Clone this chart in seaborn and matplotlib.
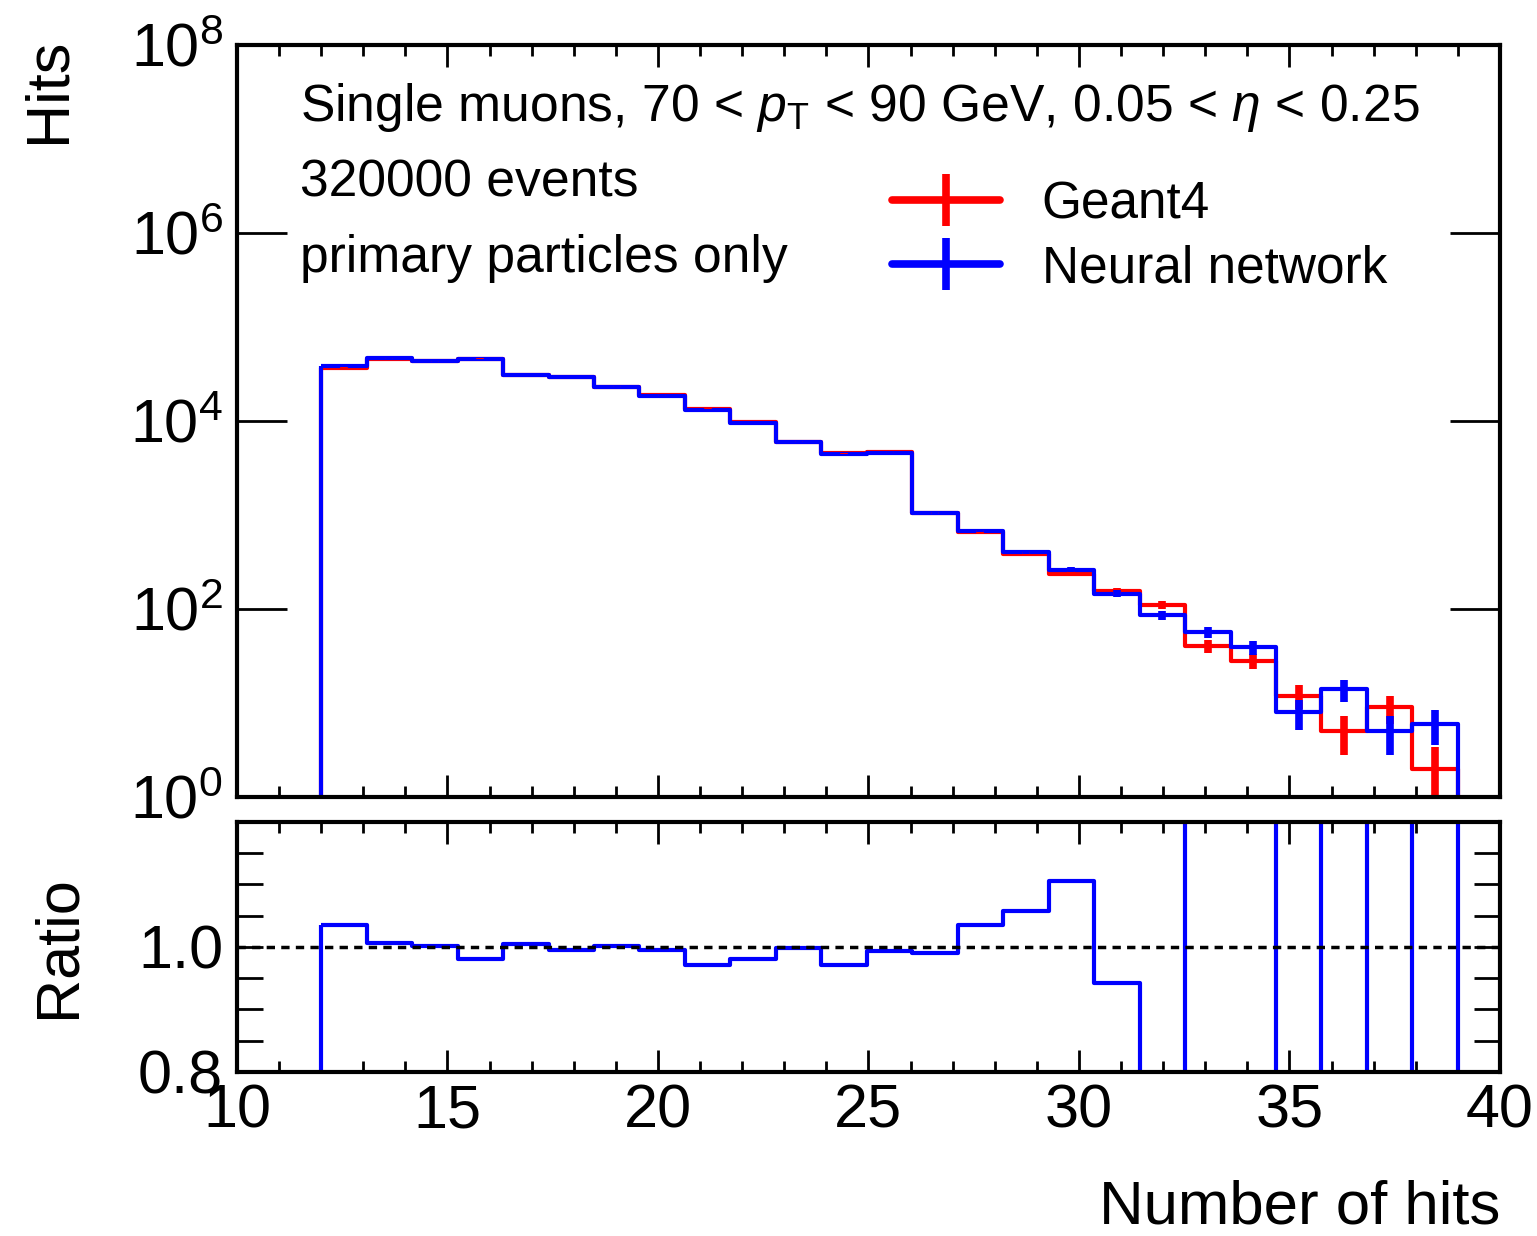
import numpy as np
import pandas as pd
import matplotlib
matplotlib.use("Agg")
import matplotlib.pyplot as plt
from matplotlib.lines import Line2D
from matplotlib.ticker import FixedLocator, MultipleLocator, FixedFormatter, LogFormatterSciNotation, NullLocator
import seaborn as sns

# Histogram binning: 25 bins between 12 and 39 hits
bin_edges = np.linspace(12, 39, 26)

# Hit-count spectra per bin
geant4_counts = [36900, 46100, 43000, 46000, 30750, 29300, 23150, 18700, 13500, 9750,
                 6030, 4530, 4630, 1053, 659, 382, 238, 155, 110, 40,
                 28, 12, 5, 9, 2]
nn_counts = [38200, 46400, 43100, 45100, 30900, 29150, 23200, 18600, 13100, 9570,
             6020, 4400, 4600, 1043, 682, 404, 263, 146, 86, 57,
             39, 8, 14, 5, 6]

y_major_ticks = [1e0, 1e2, 1e4, 1e6, 1e8]
ratio_major_ticks = [0.8, 1.0, 1.2]
ratio_major_labels = ["0.8", "1.0", ""]
ratio_minor_ticks = [0.85, 0.9, 0.95, 1.05, 1.1, 1.15]

sns.set_style("ticks")
plt.rcParams["font.family"] = ["Liberation Sans", "DejaVu Sans"]
plt.rcParams["mathtext.fontset"] = "custom"
plt.rcParams["mathtext.rm"] = "Liberation Sans"
plt.rcParams["mathtext.it"] = "Liberation Sans:italic"
plt.rcParams["mathtext.bf"] = "Liberation Sans:bold"
plt.rcParams["axes.linewidth"] = 3
for key in ("axes.edgecolor", "axes.labelcolor", "text.color", "xtick.color", "ytick.color"):
    plt.rcParams[key] = "black"

centers = 0.5 * (bin_edges[:-1] + bin_edges[1:])
df = pd.DataFrame({"hits": centers,
                   "geant4": np.array(geant4_counts, dtype=float),
                   "nn": np.array(nn_counts, dtype=float)})
df["ratio"] = df["nn"] / df["geant4"]
edges = list(bin_edges)

RED = "#ff0000"
BLUE = "#0000ff"

fig = plt.figure(figsize=(15.37, 12.36), dpi=100)
ax = fig.add_axes([0.1542, 0.3552, 0.8217, 0.6084])
rax = fig.add_axes([0.1542, 0.1327, 0.8217, 0.2023])

# step outlines closed down to the baseline at both ends
step_kw = dict(bins=edges, element="step", fill=True, facecolor="none", linewidth=3)

# --- main panel ---
sns.histplot(data=df, x="hits", weights="geant4", color=RED, edgecolor=RED, ax=ax, **step_kw)
sns.histplot(data=df, x="hits", weights="nn", color=BLUE, edgecolor=BLUE, ax=ax, **step_kw)
ax.errorbar(df["hits"], df["geant4"], yerr=np.sqrt(df["geant4"]), fmt="none",
            ecolor=RED, elinewidth=5.5, capsize=0)
ax.errorbar(df["hits"], df["nn"], yerr=np.sqrt(df["nn"]), fmt="none",
            ecolor=BLUE, elinewidth=5.5, capsize=0)

ax.set_yscale("log")
ax.set_xlim(10, 40)
ax.set_ylim(1, 1e8)
ax.yaxis.set_major_locator(FixedLocator(y_major_ticks))
ax.yaxis.set_major_formatter(LogFormatterSciNotation())
ax.yaxis.set_minor_locator(NullLocator())
ax.xaxis.set_major_locator(MultipleLocator(5))
ax.xaxis.set_minor_locator(MultipleLocator(1))
ax.tick_params(axis="y", which="major", direction="in", length=36, width=2,
               left=True, right=True, labelsize=44, pad=10)
ax.tick_params(axis="x", which="major", direction="in", length=16, width=2,
               top=True, bottom=True, labelbottom=False)
ax.tick_params(axis="x", which="minor", direction="in", length=8, width=2,
               top=True, bottom=True)
ax.set_xlabel("")
ax.set_ylabel("Hits", fontsize=44, loc="top")
ax.yaxis.set_label_coords(-0.126, 1.01)

txt_kw = dict(transform=ax.transAxes, fontsize=37.2, ha="left", va="baseline")
ax.text(0.0499, 0.899,
        r"Single muons, 70 < $p_{\mathrm{T}}$ < 90 GeV, 0.05 < $\eta$ < 0.25", **txt_kw)
ax.text(0.0499, 0.798, "320000 events", **txt_kw)
ax.text(0.0499, 0.698, "primary particles only", **txt_kw)

handles = []
for c in (RED, BLUE):
    h_line = Line2D([], [], color=c, lw=5.5)
    h_bar = Line2D([], [], color=c, marker="|", markersize=37, markeredgewidth=5.5,
                   linestyle="none")
    handles.append((h_line, h_bar))
ax.legend(handles, ["Geant4", "Neural network"], loc="center left",
          bbox_to_anchor=(0.519, 0.745), frameon=False, fontsize=37,
          handlelength=2.1, handletextpad=0.8, labelspacing=0.3,
          borderpad=0, borderaxespad=0)

# --- ratio panel ---
sns.histplot(data=df, x="hits", weights="ratio", color=BLUE, edgecolor=BLUE, ax=rax, **step_kw)
rax.axhline(1.0, color="black", lw=2.5, ls=(0, (2.4, 1.8)))
rax.set_xlim(10, 40)
rax.set_ylim(0.8, 1.2)
rax.yaxis.set_major_locator(FixedLocator(ratio_major_ticks))
rax.yaxis.set_major_formatter(FixedFormatter(ratio_major_labels))
rax.yaxis.set_minor_locator(FixedLocator(ratio_minor_ticks))
rax.xaxis.set_major_locator(MultipleLocator(5))
rax.xaxis.set_minor_locator(MultipleLocator(1))
rax.tick_params(axis="y", which="both", direction="in", length=19, width=2,
                left=True, right=True, labelsize=44, pad=10)
rax.tick_params(axis="x", which="major", direction="in", length=16, width=2,
                top=True, bottom=True, labelsize=44, pad=8)
rax.tick_params(axis="x", which="minor", direction="in", length=8, width=2,
                top=True, bottom=True)
rax.set_ylabel("Ratio", fontsize=44)
rax.yaxis.set_label_coords(-0.118, 0.5)
rax.set_xlabel("Number of hits", fontsize=44.5, loc="right")
rax.xaxis.set_label_coords(1.0, -0.43)

fig.savefig("out.png", dpi=100)
